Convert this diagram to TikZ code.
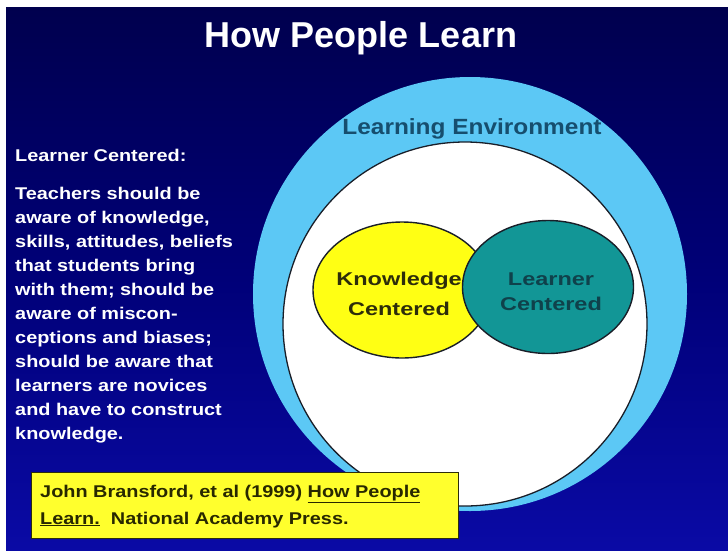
\documentclass[tikz,border=0pt]{standalone}
\usepackage{fontspec}
\setmainfont{Liberation Sans}
\newfontfamily\titlefont{Liberation Sans}
\newfontfamily\bodyfont[FakeStretch=1.17]{Liberation Sans}
\newfontfamily\envfont[FakeStretch=1.11]{Liberation Sans}
\newfontfamily\innerfont[FakeStretch=1.27]{Liberation Sans}
\usetikzlibrary{shapes.geometric}
\definecolor{bgtop}{RGB}{0,0,78}
\definecolor{bgmid}{RGB}{0,0,120}
\definecolor{bgbot}{RGB}{10,10,165}
\definecolor{skyring}{RGB}{92,200,245}
\definecolor{tealfill}{RGB}{18,150,150}
\definecolor{yelfill}{RGB}{255,255,20}
\definecolor{boxfill}{RGB}{255,255,45}
\definecolor{darkline}{RGB}{25,30,40}
\definecolor{envtext}{RGB}{22,78,110}
\definecolor{tealtext}{RGB}{15,65,75}
\definecolor{yeltext}{RGB}{45,45,10}
\definecolor{boxtext}{RGB}{40,40,0}
\tikzset{
  venn/.style={ellipse, draw=darkline, line width=1.4pt, inner sep=0pt},
  whitetext/.style={text=white, inner sep=0pt},
}
\begin{document}
\begin{tikzpicture}[x=1pt,y=-1pt]
\useasboundingbox (0,0) rectangle (728,550);
\fill[white] (0,0) rectangle (728,550);
\shade[top color=bgtop, bottom color=bgbot, middle color=bgmid] (6,7) rectangle (728,550);
% title
\node[whitetext, anchor=base, font=\titlefont\bfseries\fontsize{36}{40}\selectfont] (title) at (361,47) {How People Learn};
% circles
\node[circle, fill=skyring, minimum size=434pt, inner sep=0pt] (env) at (470,294) {};
\node[circle, fill=white, draw=darkline, line width=1.3pt, minimum size=364pt, inner sep=0pt] (inner) at (465,324) {};
\node[anchor=base, inner sep=0pt, text=envtext, font=\envfont\bfseries\fontsize{22}{26}\selectfont] (envlabel) at (472,134) {Learning Environment};
% venn
\node[venn, fill=yelfill, minimum width=178pt, minimum height=136pt] (know) at (402,290) {};
\node[anchor=base, inner sep=0pt, text=yeltext, align=center, font=\innerfont\bfseries\fontsize{18.5}{30}\selectfont] (knowtext) at (399,315) {Knowledge\\Centered};
\node[venn, fill=tealfill, minimum width=171pt, minimum height=133pt] (learn) at (548,287) {};
\node[anchor=base, inner sep=0pt, text=tealtext, align=center, font=\innerfont\bfseries\fontsize{18.5}{25}\selectfont] (learntext) at (551,310) {Learner\\Centered};
% left text
\node[whitetext, anchor=base west, font=\bodyfont\bfseries\fontsize{17}{24}\selectfont] (lchead) at (15,161) {Learner Centered:};
\node[whitetext, anchor=base west, align=left, font=\bodyfont\bfseries\fontsize{17}{24}\selectfont] (lcbody) at (15,439) {Teachers should be\\aware of knowledge,\\skills, attitudes, beliefs\\that students bring\\with them; should be\\aware of miscon-\\ceptions and biases;\\should be aware that\\learners are novices\\and have to construct\\knowledge.};
% reference box
\node[draw=yeltext, line width=0.8pt, fill=boxfill, minimum width=427pt, minimum height=66pt, inner sep=0pt] (refbox) at (244.5,505) {};
\node[anchor=base west, inner sep=0pt, text=boxtext, align=left, font=\bodyfont\bfseries\fontsize{17}{27}\selectfont] (reftext) at (40,524) {John Bransford, et al (1999) \underline{How People}\\\underline{Learn.}\ \ National Academy Press.};
\end{tikzpicture}
\end{document}
